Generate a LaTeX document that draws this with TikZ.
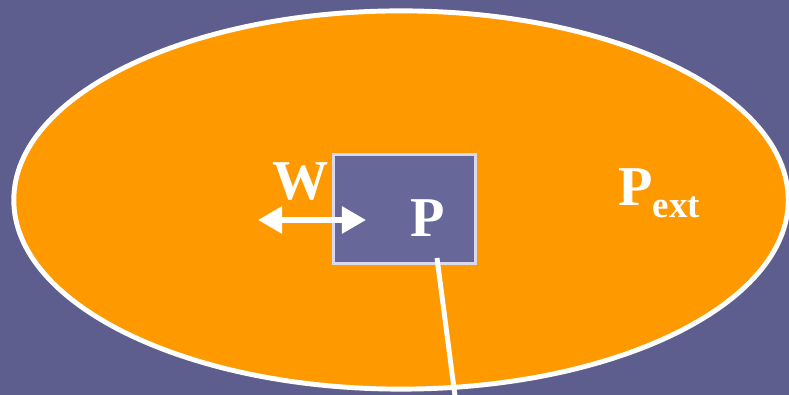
\documentclass[tikz,border=0pt]{standalone}
\usepackage{fontspec}
\setmainfont{Liberation Serif}
\usepackage{xcolor}
\usepackage{tikz}
\usetikzlibrary{shapes.geometric, arrows.meta, positioning}

\definecolor{slate}{HTML}{5E5E8E}
\definecolor{boxfill}{HTML}{67679A}
\definecolor{boxedge}{HTML}{D8D8F0}
\definecolor{poolorange}{HTML}{FF9900}

\begin{document}
\begin{tikzpicture}[x=0.01cm, y=-0.01cm, >=Stealth]
    \tikzstyle{pool} = [ellipse, draw=white, line width=1.4pt, fill=poolorange, minimum width=7.74cm, minimum height=3.78cm, inner sep=0pt]
    \tikzstyle{system} = [rectangle, draw=boxedge, line width=0.9pt, fill=boxfill, minimum width=1.42cm, minimum height=1.09cm, inner sep=0pt]
    \tikzstyle{lbl} = [text=white, font=\fontsize{16}{16}\selectfont\bfseries, inner sep=0pt]

    % background
    \fill[slate] (0,0) rectangle (789,395);
    \useasboundingbox (0,0) rectangle (789,395);

    \node (outside) [pool] at (401,200) {};
    \node (sys) [system] at (404.5,209) {};

    \node (w) [lbl] at (301,182) {W};
    \node (p) [lbl] at (428,218) {P};
    \node (pext) [lbl] at (659,193) {P{\fontsize{10.5}{10.5}\selectfont\raisebox{-3.5pt}{ext}}};

    % work arrow
    \coordinate (wl) at (258,220);
    \coordinate (wr) at (366,220);
    \draw[{Triangle[length=0.24cm, width=0.26cm]}-{Triangle[length=0.24cm, width=0.26cm]}, white, line width=1.6pt] (wl) -- (wr);

    % pointer line
    \coordinate (ptop) at (437,258);
    \coordinate (pbot) at (455,396);
    \draw[white, line width=1.4pt] (ptop) -- (pbot);
\end{tikzpicture}
\end{document}
